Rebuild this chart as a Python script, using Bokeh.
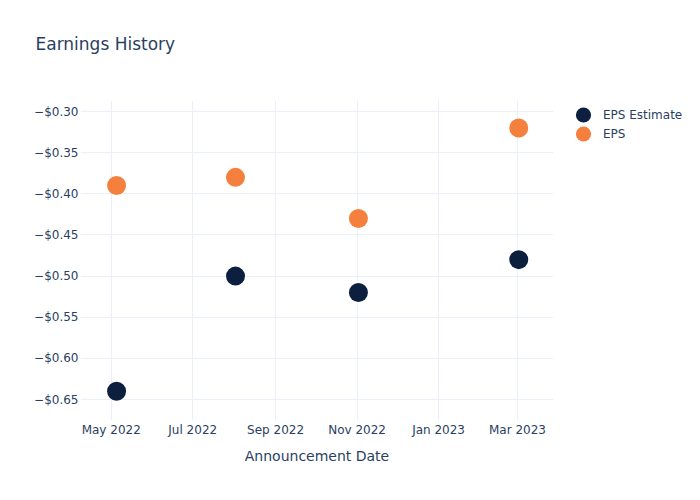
from datetime import datetime
from bokeh.plotting import figure
from bokeh.models import (ColumnDataSource, Range1d, FixedTicker, CustomJSTickFormatter,
                          DatetimeTickFormatter, Legend, LegendItem, Title)
from bokeh.embed import file_html
from bokeh.resources import INLINE

# ---- data ----
dates = ["2022-05-05", "2022-08-02", "2022-11-02", "2023-03-02"]
eps_estimate = [-0.64, -0.50, -0.52, -0.48]
eps_actual = [-0.39, -0.38, -0.43, -0.32]
x_tick_dates = ["2022-05-01", "2022-07-01", "2022-09-01", "2022-11-01", "2023-01-01", "2023-03-01"]
y_ticks = [-0.30, -0.35, -0.40, -0.45, -0.50, -0.55, -0.60, -0.65]
x_range_dates = ["2022-04-08", "2023-03-28"]
y_range = [-0.6755, -0.2866]

def ms(s):
    return datetime.strptime(s, "%Y-%m-%d").timestamp() * 1000.0

TEXT = "#2a3f5f"
GRID = "#ebf0f8"
FONT = "DejaVu Sans"

src = ColumnDataSource(dict(x=[ms(d) for d in dates], est=eps_estimate, eps=eps_actual))

p = figure(frame_width=473, frame_height=320, output_backend="svg", toolbar_location=None,
           x_axis_type="datetime",
           x_range=Range1d(ms(x_range_dates[0]), ms(x_range_dates[1])),
           y_range=Range1d(y_range[0], y_range[1]),
           min_border_left=80, min_border_right=147, min_border_top=100, min_border_bottom=80)
p.outline_line_color = None
p.background_fill_color = "white"
p.border_fill_color = "white"

r1 = p.ellipse(x="x", y="est", source=src, width=19, height=19,
               width_units="screen", height_units="screen",
               fill_color="#0c1f3f", line_color=None)
r2 = p.ellipse(x="x", y="eps", source=src, width=19, height=19,
               width_units="screen", height_units="screen",
               fill_color="#f5803e", line_color=None)

# axes
xa = p.xaxis[0]
xa.ticker = FixedTicker(ticks=[ms(d) for d in x_tick_dates])
xa.formatter = DatetimeTickFormatter(months="%b %Y", days="%b %Y", years="%b %Y")
xa.axis_label = "Announcement Date"
xa.axis_label_text_font = FONT
xa.axis_label_text_font_size = "14px"
xa.axis_label_text_font_style = "normal"
xa.axis_label_text_color = TEXT
xa.axis_label_standoff = 8
xa.major_label_text_font = FONT
xa.major_label_text_font_size = "12px"
xa.major_label_text_color = TEXT
xa.major_label_standoff = 2
xa.major_tick_out = 0
xa.major_tick_in = 0
xa.axis_line_color = None
xa.major_tick_line_color = None
xa.minor_tick_line_color = None

ya = p.yaxis[0]
ya.ticker = FixedTicker(ticks=y_ticks)
ya.formatter = CustomJSTickFormatter(code="return '\u2212$' + Math.abs(tick).toFixed(2);")
ya.major_label_text_font = FONT
ya.major_label_text_font_size = "12px"
ya.major_label_text_color = TEXT
ya.major_label_standoff = 2
ya.major_tick_out = 0
ya.major_tick_in = 0
ya.axis_line_color = None
ya.major_tick_line_color = None
ya.minor_tick_line_color = None

p.xgrid.grid_line_color = GRID
p.ygrid.grid_line_color = GRID
p.xgrid.grid_line_width = 1
p.ygrid.grid_line_width = 1

# title (outermost) plus a blank spacer title next to the frame
p.title = Title(text="Earnings History", align="left", offset=-45,
                text_font=FONT, text_font_size="17px", text_font_style="normal",
                text_color=TEXT, standoff=0)
p.add_layout(Title(text=" ", text_font=FONT, text_font_size="17px", standoff=25), "above")

legend = Legend(items=[LegendItem(label="EPS Estimate", renderers=[r1]),
                       LegendItem(label="EPS", renderers=[r2])],
                location=(20, 277), orientation="vertical",
                label_text_font=FONT, label_text_font_size="12px", label_text_color=TEXT,
                glyph_height=19, glyph_width=20, label_height=19, label_standoff=10,
                spacing=0, margin=0, padding=0,
                border_line_color=None, background_fill_alpha=0)
p.add_layout(legend, "right")

open("out.html", "w").write(file_html(p, INLINE))
